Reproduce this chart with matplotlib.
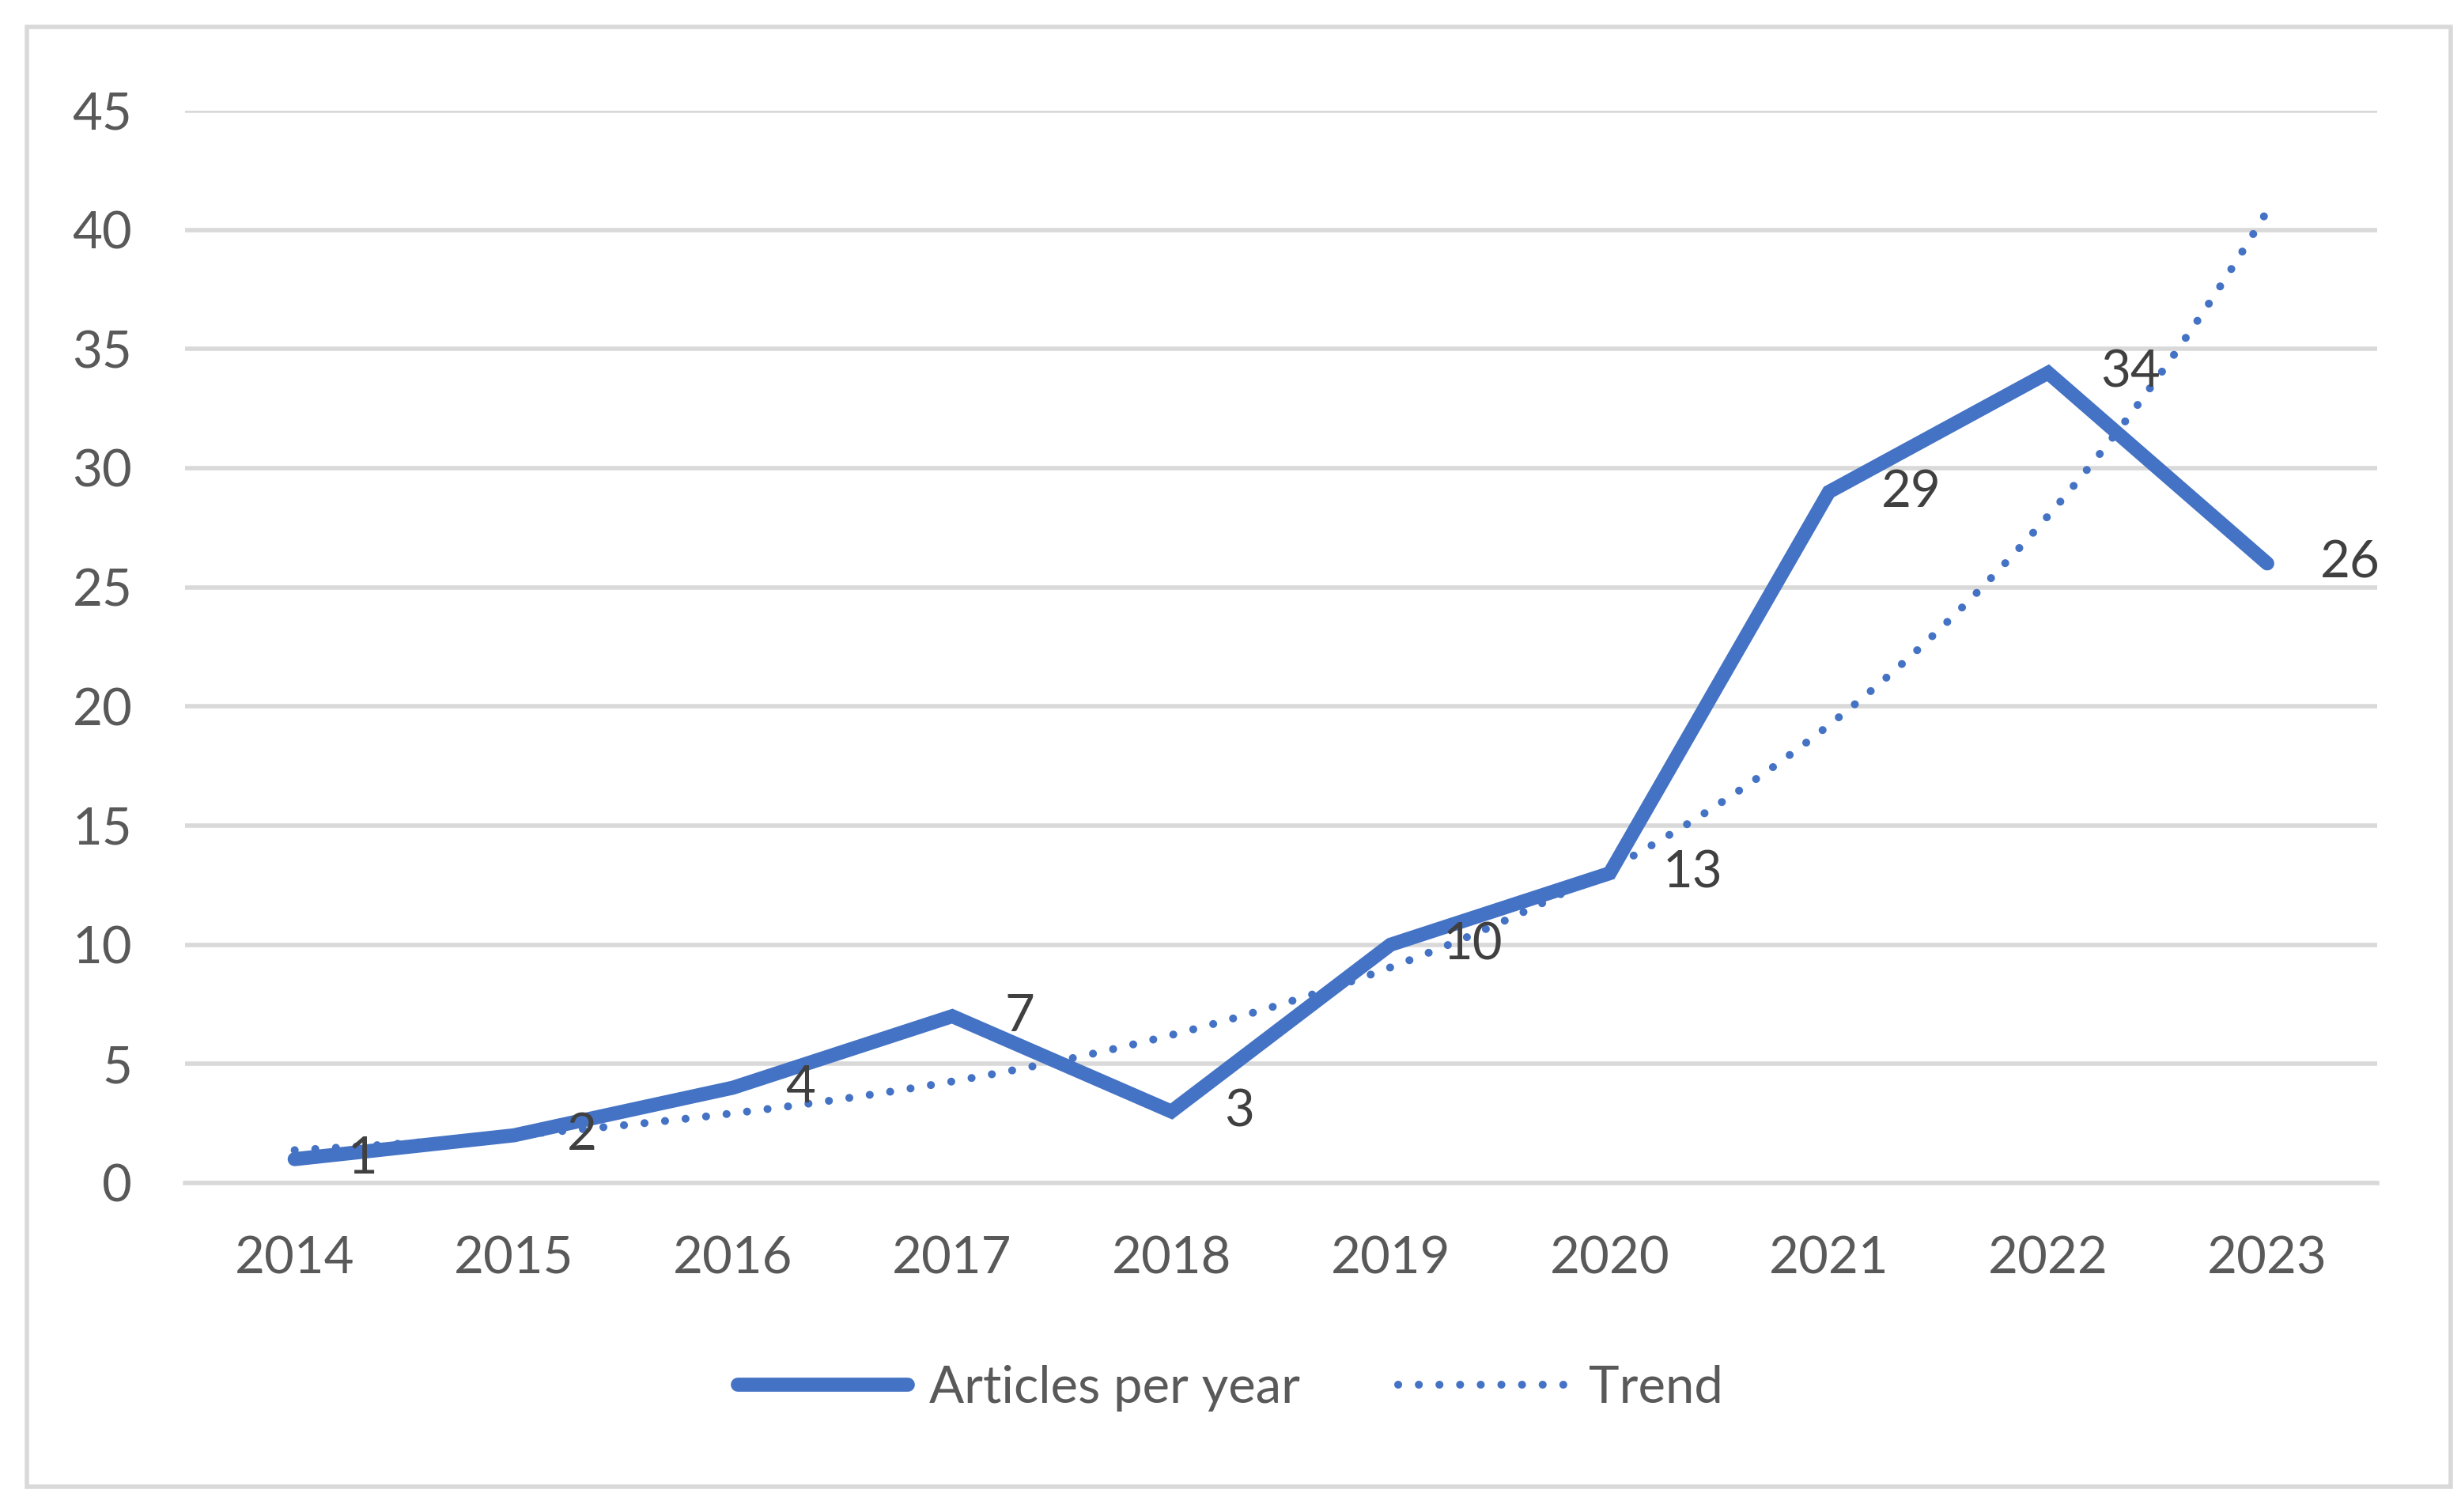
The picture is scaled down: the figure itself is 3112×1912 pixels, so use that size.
"""Articles per year with exponential trend line."""

import matplotlib.pyplot as plt
import numpy as np
from matplotlib.patches import Rectangle

years = ["2014", "2015", "2016", "2017", "2018", "2019", "2020", "2021", "2022", "2023"]
articles = [1, 2, 4, 7, 3, 10, 13, 29, 34, 26]
y_ticks = [0, 5, 10, 15, 20, 25, 30, 35, 40, 45]

BLUE = "#4472C4"
GRID = "#D9D9D9"
TICK_COLOR = "#595959"
LABEL_COLOR = "#404040"
FONT = "Lato"
SIZE = 23.5


def plot_articles() -> None:
    fig = plt.figure(figsize=(15.56, 9.56), dpi=200)
    ax = fig.add_axes([0.0752, 0.2176, 0.8906, 0.7092])

    x = np.arange(len(years))
    ax.plot(x, articles, color=BLUE, linewidth=6.4, solid_capstyle="round",
            solid_joinstyle="miter", label="Articles per year", zorder=3)

    # exponential trend fitted to the series (like the spreadsheet trendline)
    slope, intercept = np.polyfit(x, np.log(articles), 1)
    xs = np.linspace(x[0], x[-1], 200)
    ax.plot(xs, np.exp(intercept + slope * xs), color=BLUE, linewidth=3.6,
            linestyle=(0, (0.01, 2.6)), dash_capstyle="round", label="Trend", zorder=4)

    for xi, value in zip(x, articles):
        ax.annotate(str(value), (xi, value), xytext=(24, 0), textcoords="offset points",
                    ha="left", va="center", fontsize=SIZE, color=LABEL_COLOR,
                    family=FONT, zorder=5)

    ax.set_xlim(-0.5, len(years) - 0.5)
    ax.set_ylim(0, 45)
    ax.set_yticks(y_ticks)
    ax.set_xticks(x)
    ax.set_xticklabels(years)
    ax.grid(axis="y", color=GRID, linewidth=2.0)
    ax.set_axisbelow(True)
    for side in ["top", "right", "left"]:
        ax.spines[side].set_visible(False)
    ax.spines["bottom"].set_color(GRID)
    ax.spines["bottom"].set_linewidth(2.0)
    ax.tick_params(axis="both", length=0, labelsize=SIZE, labelcolor=TICK_COLOR)
    ax.tick_params(axis="y", pad=24)
    ax.tick_params(axis="x", pad=24)
    for label in ax.get_xticklabels() + ax.get_yticklabels():
        label.set_family(FONT)

    fig.legend(loc="center", bbox_to_anchor=(0.5, 0.082), ncol=2, frameon=False,
               prop={"family": FONT, "size": SIZE}, labelcolor=TICK_COLOR,
               handlelength=3.3, handletextpad=0.4, columnspacing=1.9)

    fig.patches.append(Rectangle((0.0109, 0.0167), 0.985, 0.9655, transform=fig.transFigure,
                                 fill=False, edgecolor=GRID, linewidth=2.0))

    fig.savefig("out.png", dpi=200)
    plt.close(fig)


if __name__ == "__main__":
    plot_articles()
